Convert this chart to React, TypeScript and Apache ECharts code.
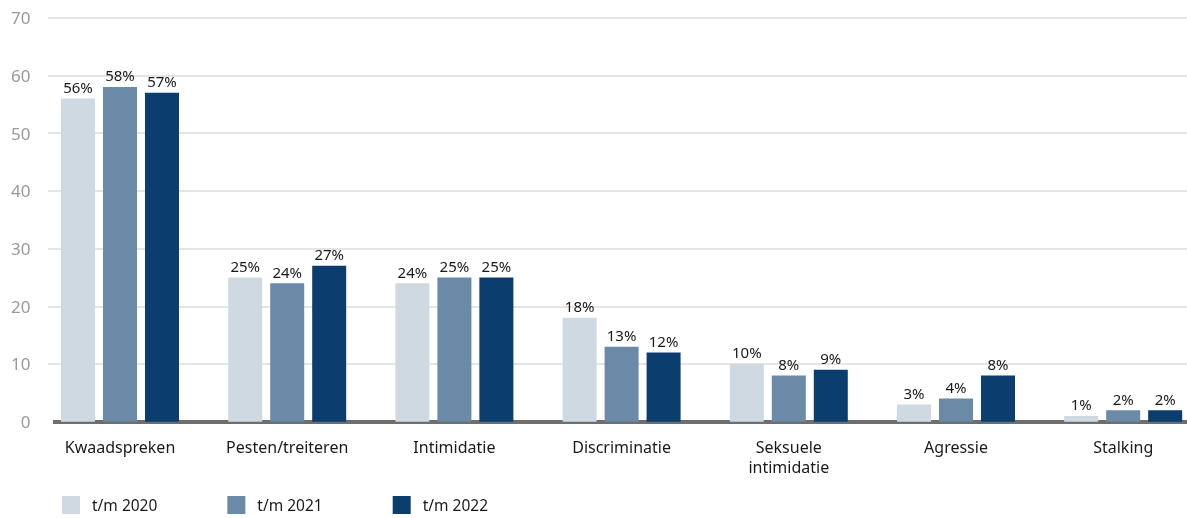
import React, { useEffect, useRef } from "react";
import * as echarts from "echarts";

const categories = ["Kwaadspreken", "Pesten/treiteren", "Intimidatie", "Discriminatie", "Seksuele\nintimidatie", "Agressie", "Stalking"];
const seriesNames = ["t/m 2020", "t/m 2021", "t/m 2022"];
const values2020 = [56, 25, 24, 18, 10, 3, 1];
const values2021 = [58, 24, 25, 13, 8, 4, 2];
const values2022 = [57, 27, 25, 12, 9, 8, 2];
const colors = ["#cfd9e2", "#6a8aa8", "#0b3d6e"];

const FONT = "'Noto Sans', 'Open Sans', sans-serif";

export default function App() {
  const ref = useRef<HTMLDivElement>(null);
  useEffect(() => {
    if (!ref.current) return;
    const chart = echarts.init(ref.current, null, { renderer: "svg" });
    const data = [values2020, values2021, values2022];
    chart.setOption({
      animation: false,
      textStyle: { fontFamily: FONT },
      grid: { left: 36.4, top: 17.7, width: 1170.4, height: 404 },
      legend: {
        left: 57,
        top: 491,
        itemWidth: 18,
        itemHeight: 18,
        itemGap: 70,
        icon: "rect",
        textStyle: { fontSize: 15.5, color: "#1a1a1a", fontFamily: FONT, padding: [0, 0, 0, 7] },
        data: seriesNames,
      },
      xAxis: {
        type: "category",
        data: categories,
        axisLine: { show: true, lineStyle: { color: "#6e6e6e", width: 4 } },
        axisTick: { show: false },
        axisLabel: { color: "#1a1a1a", fontSize: 16, margin: 15, lineHeight: 20, fontFamily: FONT },
      },
      yAxis: {
        type: "value",
        min: 0,
        max: 70,
        interval: 10,
        axisLine: { show: false },
        axisTick: { show: false },
        axisLabel: { color: "#9a9a9a", fontSize: 17, margin: 6, fontFamily: FONT },
        splitLine: { lineStyle: { color: "#dcdcdc", width: 1.5 } },
      },
      series: seriesNames.map((name, i) => ({
        name,
        type: "bar",
        data: data[i],
        barWidth: 34,
        barGap: "23.5%",
        itemStyle: { color: colors[i] },
        label: {
          show: true,
          position: "top",
          distance: 4,
          formatter: "{c}%",
          color: "#1a1a1a",
          fontSize: 15,
          fontFamily: FONT,
        },
      })),
      graphic: [
        { type: "rect", left: 32, top: 0, z: 100, shape: { x: 0, y: 0, width: 16, height: 419 }, style: { fill: "#ffffff" } },
        { type: "rect", left: 32, top: 418, z: 100, shape: { x: 0, y: 0, width: 21, height: 8 }, style: { fill: "#ffffff" } },
      ],
    });
    return () => chart.dispose();
  }, []);
  return (
    <div style={{ position: "fixed", left: 0, top: 0, width: 1187, height: 518, overflow: "hidden" }}>
      <div ref={ref} style={{ width: 1220, height: 518 }} />
    </div>
  );
}
